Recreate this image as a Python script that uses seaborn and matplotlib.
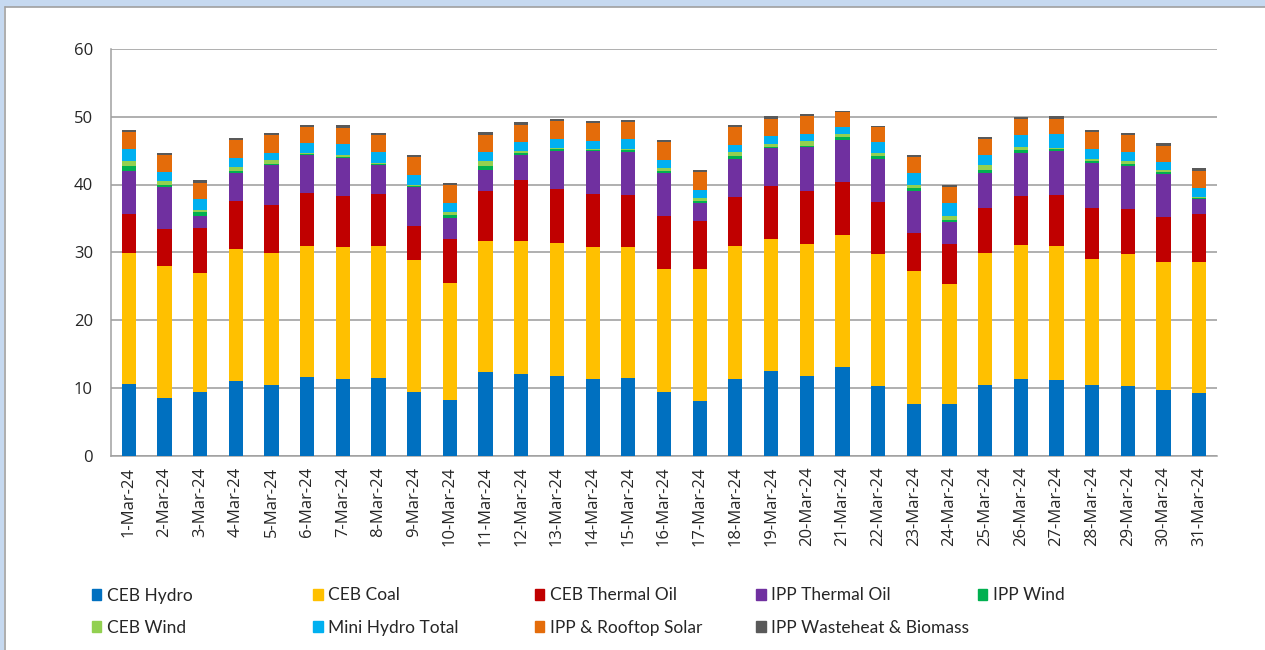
import pandas as pd
import matplotlib
matplotlib.use("Agg")
import matplotlib.pyplot as plt
import matplotlib.patches as mpatches
from matplotlib import font_manager
import seaborn as sns

# data (GWh per day, March 2024)
dates = [f"{d}-Mar-24" for d in range(1, 32)]

ceb_hydro = [10.5, 8.45, 9.3, 11.05, 10.46, 11.54, 11.35, 11.4, 9.4, 8.2,
             12.3, 12.1, 11.8, 11.3, 11.4, 9.4, 8.05, 11.35, 12.5, 11.8,
             13.1, 10.3, 7.6, 7.65, 10.35, 11.25, 11.15, 10.35, 10.2, 9.6, 9.2]
ceb_coal = [19.4, 19.55, 17.7, 19.4, 19.45, 19.45, 19.45, 19.45, 19.4, 17.3,
            19.4, 19.5, 19.6, 19.5, 19.4, 18.1, 19.5, 19.5, 19.5, 19.4,
            19.5, 19.5, 19.6, 17.65, 19.55, 19.75, 19.7, 18.65, 19.5, 19.0, 19.4]
ceb_thermal_oil = [5.7, 5.4, 6.6, 7.05, 7.0, 7.7, 7.5, 7.8, 5.1, 6.4,
                   7.4, 9.0, 8.0, 7.85, 7.6, 7.8, 7.05, 7.35, 7.8, 7.8,
                   7.7, 7.6, 5.7, 5.9, 6.6, 7.3, 7.65, 7.6, 6.7, 6.6, 7.0]
ipp_thermal_oil = [6.4, 6.2, 1.7, 4.25, 5.9, 5.7, 5.65, 4.25, 5.7, 3.2,
                   3.1, 3.75, 5.6, 6.25, 6.45, 6.4, 2.6, 5.55, 5.6, 6.5,
                   6.3, 6.4, 6.2, 3.2, 5.25, 6.4, 6.5, 6.5, 6.4, 6.35, 2.2]
ipp_wind = [0.7, 0.4, 0.6, 0.3, 0.25, 0.1, 0.15, 0.1, 0.15, 0.4,
            0.6, 0.35, 0.2, 0.2, 0.25, 0.3, 0.3, 0.5, 0.2, 0.25,
            0.4, 0.4, 0.4, 0.4, 0.4, 0.4, 0.2, 0.3, 0.2, 0.25, 0.2]
ceb_wind = [0.8, 0.5, 0.4, 0.5, 0.6, 0.2, 0.25, 0.2, 0.2, 0.4,
            0.7, 0.3, 0.2, 0.15, 0.2, 0.4, 0.45, 0.5, 0.35, 0.6,
            0.4, 0.45, 0.4, 0.6, 0.7, 0.4, 0.25, 0.4, 0.4, 0.3, 0.15]
mini_hydro = [1.8, 1.4, 1.5, 1.4, 1.0, 1.4, 1.65, 1.55, 1.5, 1.3,
              1.25, 1.2, 1.3, 1.2, 1.4, 1.2, 1.3, 1.15, 1.25, 1.1,
              1.1, 1.65, 1.75, 1.9, 1.45, 1.75, 1.95, 1.5, 1.35, 1.2, 1.4]
solar = [2.4, 2.5, 2.4, 2.6, 2.65, 2.4, 2.4, 2.5, 2.6, 2.7,
         2.6, 2.6, 2.6, 2.6, 2.5, 2.6, 2.65, 2.6, 2.45, 2.6,
         2.2, 2.2, 2.45, 2.4, 2.45, 2.4, 2.3, 2.4, 2.5, 2.4, 2.5]
wasteheat = [0.35, 0.3, 0.4, 0.3, 0.25, 0.35, 0.35, 0.35, 0.3, 0.3,
             0.35, 0.4, 0.35, 0.35, 0.3, 0.35, 0.3, 0.35, 0.45, 0.3,
             0.2, 0.2, 0.2, 0.25, 0.25, 0.35, 0.4, 0.3, 0.3, 0.4, 0.4]

sources = ["CEB Hydro", "CEB Coal", "CEB Thermal Oil", "IPP Thermal Oil", "IPP Wind",
           "CEB Wind", "Mini Hydro Total", "IPP & Rooftop Solar", "IPP Wasteheat & Biomass"]
series = [ceb_hydro, ceb_coal, ceb_thermal_oil, ipp_thermal_oil, ipp_wind,
          ceb_wind, mini_hydro, solar, wasteheat]
colors = ["#0070C0", "#FFC000", "#C00000", "#7030A0", "#00B050",
          "#92D050", "#00B0F0", "#E46C0A", "#595959"]


def has_font(name):
    try:
        font_manager.findfont(name, fallback_to_default=False)
        return True
    except Exception:
        return False


tick_font = "Open Sans" if has_font("Open Sans") else "DejaVu Sans"
legend_font = "Lato" if has_font("Lato") else "Roboto"

# long table with running totals for stacking
rows = []
for i, d in enumerate(dates):
    total = 0
    for s, vals in zip(sources, series):
        total += vals[i]
        rows.append({"Date": d, "Source": s, "cum": total})
df = pd.DataFrame(rows)

sns.set_style("white")
plt.rcParams["font.family"] = [tick_font, "DejaVu Sans"]

fig = plt.figure(figsize=(12.65, 6.5), dpi=100)
ax = fig.add_axes([111 / 1265, 1 - 455.5 / 650, (1217 - 111) / 1265, (455.5 - 49) / 650])

# Excel-ish frame: blue strip on top / left with a grey border
fig.patches.append(mpatches.Rectangle((0, 1 - 6.5 / 650), 1, 6.5 / 650, transform=fig.transFigure,
                                      facecolor="#c6d9f0", edgecolor="none", zorder=0))
fig.patches.append(mpatches.Rectangle((0, 0), 4 / 1265, 1, transform=fig.transFigure,
                                      facecolor="#c6d9f0", edgecolor="none", zorder=0))
fig.add_artist(plt.Line2D([4.5 / 1265, 1], [1 - 7 / 650, 1 - 7 / 650], color="#a0a0a0", lw=1.2))
fig.add_artist(plt.Line2D([4.5 / 1265, 4.5 / 1265], [0, 1 - 7 / 650], color="#a0a0a0", lw=1.2))

# tallest first so lower segments cover the upper totals
for s, c in reversed(list(zip(sources, colors))):
    sns.barplot(data=df[df["Source"] == s], x="Date", y="cum", color=c,
                width=0.4, errorbar=None, ax=ax, zorder=3, saturation=1,
                edgecolor="none")

ax.set_ylim(0, 60)
ax.set_xlim(-0.5, len(dates) - 0.5)
ax.set_yticks(range(0, 61, 10))
ax.yaxis.grid(True, color="#9a9a9a", lw=1.1)
ax.set_axisbelow(True)
ax.set_xlabel("")
ax.set_ylabel("")
for sp in ["top", "right"]:
    ax.spines[sp].set_visible(False)
for sp in ["left", "bottom"]:
    ax.spines[sp].set_color("#a0a0a0")
    ax.spines[sp].set_linewidth(1.1)

ax.tick_params(axis="x", which="major", length=0, pad=8, rotation=90, labelsize=12)
ax.set_xticks([i - 0.5 for i in range(len(dates) + 1)], minor=True)
ax.tick_params(axis="x", which="minor", length=4.5, color="#a0a0a0", width=1.1)
ax.tick_params(axis="y", length=4, color="#a0a0a0", width=1.1, pad=9, labelsize=12)

# legend: fixed column grid like the spreadsheet
cols = [[0, 5], [1, 6], [2, 7], [3, 8], [4]]
col_x = [91.5, 313, 534.5, 756, 977.5]
for xs, idx in zip(col_x, cols):
    handles = [mpatches.Patch(color=colors[k], label=sources[k]) for k in idx]
    fig.legend(handles=handles, loc="upper left", bbox_to_anchor=(xs / 1265, 1 - 587.5 / 650),
               frameon=False, handlelength=0.56, handleheight=0.56, handletextpad=0.33,
               labelspacing=0.94, borderaxespad=0, borderpad=0,
               prop={"family": legend_font, "size": 12.5})

fig.savefig("out.png", dpi=100, facecolor="white")
